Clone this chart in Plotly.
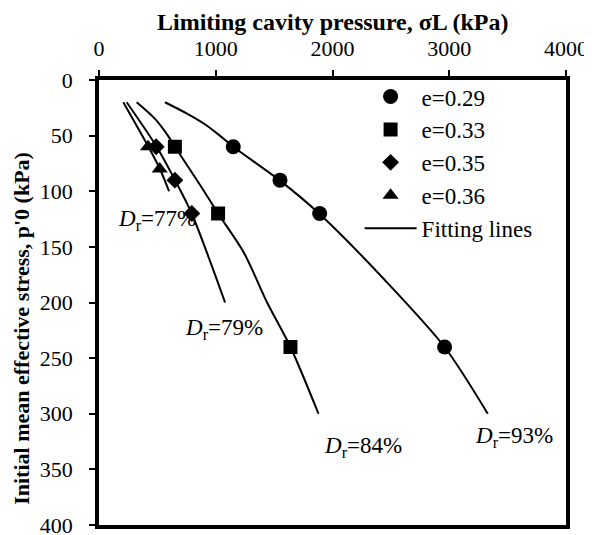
import plotly.graph_objects as go

# Measured points (x: limiting cavity pressure kPa, y: p'0 kPa)
e029_x = [1150, 1550, 1890, 2960]
e029_y = [60, 90, 120, 240]
e033_x = [650, 1020, 1640]
e033_y = [60, 120, 240]
e035_x = [490, 650, 795]
e035_y = [60, 90, 120]
e036_x = [420, 520]
e036_y = [60, 80]

# Fitting lines
fit93_x = [565, 750, 910, 1035, 1150, 1545, 1885, 2450, 2960, 3330]
fit93_y = [20, 30, 40, 50, 60, 90, 120, 180, 240, 300]
fit84_x = [323, 480, 590, 650, 870, 1020, 1240, 1440, 1640, 1880]
fit84_y = [20, 35, 50, 60, 95, 120, 155, 200, 240, 300]
fit79_x = [237, 494, 651, 794, 1080]
fit79_y = [20, 60, 90, 120, 200]
fit77_x = [208, 423, 522, 600]
fit77_y = [20, 60, 80, 100]

labels = ["D_r=77%", "D_r=79%", "D_r=84%", "D_r=93%"]
label_x = [497, 1070, 2260, 3555]
label_y = [126, 224, 330, 321]

x_ticks = [0, 1000, 2000, 3000, 4000]
y_ticks = [0, 50, 100, 150, 200, 250, 300, 350, 400]

x_title = "Limiting cavity pressure, σL (kPa)"
y_title = "Initial mean effective stress, p'0 (kPa)"

FONT = "Liberation Serif"
fig = go.Figure()

fits = [(fit93_x, fit93_y), (fit84_x, fit84_y), (fit79_x, fit79_y), (fit77_x, fit77_y)]
for i, (fx, fy) in enumerate(fits):
    fig.add_trace(go.Scatter(x=fx, y=fy, mode="lines",
                             line=dict(color="black", width=2, shape="spline", smoothing=0.8),
                             name="Fitting lines", legendgroup="fit", showlegend=(i == 0),
                             legendrank=5))

markers = [
    (e029_x, e029_y, "e=0.29", "circle", 15),
    (e033_x, e033_y, "e=0.33", "square", 14),
    (e035_x, e035_y, "e=0.35", "diamond", 13),
    (e036_x, e036_y, "e=0.36", "triangle-up", 14),
]
for k, (mx, my, nm, sym, sz) in enumerate(markers):
    fig.add_trace(go.Scatter(x=mx, y=my, mode="markers", name=nm,
                             marker=dict(symbol=sym, size=sz, color="black"),
                             legendrank=k + 1))

for t, lx, ly in zip(labels, label_x, label_y):
    txt = "<i>D</i><sub>r</sub>=" + t.split("=")[1]
    fig.add_annotation(x=lx, y=ly, text=txt, showarrow=False,
                       font=dict(family=FONT, size=23, color="black"))

# axis titles
fig.add_annotation(xref="paper", yref="paper", x=0.5, y=1.13, xanchor="center", yanchor="middle",
                   text="<b>" + x_title + "</b>", showarrow=False,
                   font=dict(family=FONT, size=24, color="black"))
fig.add_annotation(xref="paper", yref="paper", x=-0.165, y=0.443, xanchor="center",
                   yanchor="middle", textangle=-90, text="<b>" + y_title + "</b>",
                   showarrow=False, font=dict(family=FONT, size=22, color="black"))

# page body has an 8px margin, so the figure is shifted by 8px
fig.update_layout(
    width=584, height=527,
    margin=dict(l=91, r=26, t=72, b=10),
    plot_bgcolor="white", paper_bgcolor="white",
    font=dict(family=FONT, size=22, color="black"),
    showlegend=True,
    legend=dict(x=0.558, y=1.011, xanchor="left", yanchor="top", bgcolor="rgba(0,0,0,0)",
                font=dict(family=FONT, size=23), tracegroupgap=0, itemwidth=52),
)
fig.update_xaxes(side="top", range=[0, 4000], tickvals=x_ticks, ticks="outside", ticklen=6,
                 tickwidth=2, tickcolor="black", showline=True, linewidth=3.5, linecolor="black",
                 mirror=True, showgrid=False, zeroline=False, automargin=False,
                 ticklabelstandoff=5, ticklabeloverflow="allow")
fig.update_yaxes(range=[400, 0], tickvals=y_ticks, ticks="outside", ticklen=6, tickwidth=2,
                 tickcolor="black", showline=True, linewidth=3.5, linecolor="black", mirror=True,
                 showgrid=False, zeroline=False, automargin=False, ticklabelstandoff=12,
                 ticklabeloverflow="allow")

fig.write_html("out.html")
